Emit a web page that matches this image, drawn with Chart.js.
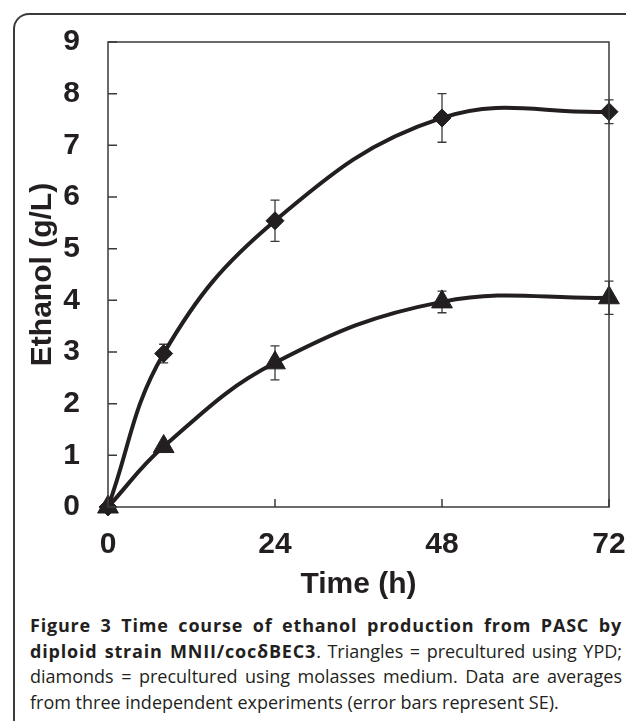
<!DOCTYPE html>
<html><head><meta charset="utf-8">
<script src="https://cdn.jsdelivr.net/npm/chart.js@4/dist/chart.umd.min.js"></script>
<style>
html,body{margin:0;padding:0;background:#fff;width:626px;height:721px;overflow:hidden;}
#frame{position:absolute;left:13px;top:13px;width:660px;height:760px;border-left:2px solid #3a3a3a;border-top:2px solid #3a3a3a;border-top-left-radius:16px;box-sizing:border-box;}
#c{position:absolute;left:0;top:0;}
#cap{position:absolute;left:30px;top:613px;width:592px;font-family:'Open Sans',sans-serif;font-size:18px;line-height:25.7px;color:#231f20;}
#cap .j{text-align:justify;text-align-last:justify;}
#cap b{font-weight:700;letter-spacing:0.8px;}
</style>
</head><body>
<div id="frame"></div>
<canvas id="c" width="626" height="610"></canvas>
<div id="cap">
<div class="j"><b>Figure 3 Time course of ethanol production from PASC by</b></div>
<div class="j"><b>diploid strain MNII/coc&delta;BEC3</b>. Triangles = precultured using YPD;</div>
<div class="j">diamonds = precultured using molasses medium. Data are averages</div>
<div>from three independent experiments (error bars represent SE).</div>
</div>
<script>
const times = [0, 8, 24, 48, 72];
const molasses = [0, 2.97, 5.54, 7.53, 7.65];
const molassesErr = [0, 0.18, 0.40, 0.47, 0.23];
const ypd = [0, 1.17, 2.79, 3.97, 4.05];
const ypdErr = [0, 0.08, 0.33, 0.21, 0.32];
const xTicks = [0, 24, 48, 72];
const yTicks = [0, 1, 2, 3, 4, 5, 6, 7, 8, 9];

const INK = '#231f20';
const AXIS = '#3a3a3a';

const decor = {
  id: 'decor',
  beforeDatasetsDraw(chart) {
    const ctx = chart.ctx, xs = chart.scales.x, ys = chart.scales.y;
    ctx.save();
    ctx.strokeStyle = AXIS;
    ctx.lineWidth = 1.3;
    chart.data.datasets.forEach(ds => {
      ds.data.forEach((p, i) => {
        const e = ds.err[i];
        if (!e) return;
        const px = xs.getPixelForValue(p.x);
        const top = ys.getPixelForValue(p.y + e);
        const bot = ys.getPixelForValue(p.y - e);
        ctx.beginPath();
        ctx.moveTo(px, top); ctx.lineTo(px, bot);
        ctx.moveTo(px - 4.5, top); ctx.lineTo(px + 4.5, top);
        ctx.moveTo(px - 4.5, bot); ctx.lineTo(px + 4.5, bot);
        ctx.stroke();
      });
    });
    ctx.restore();
  },
  afterDraw(chart) {
    const ctx = chart.ctx, a = chart.chartArea, xs = chart.scales.x, ys = chart.scales.y;
    ctx.save();
    ctx.strokeStyle = AXIS;
    ctx.lineWidth = 1.5;
    ctx.strokeRect(a.left, a.top, a.right - a.left, a.bottom - a.top);
    ctx.beginPath();
    yTicks.forEach(v => {
      const py = ys.getPixelForValue(v);
      ctx.moveTo(a.left, py); ctx.lineTo(a.left + 9, py);
    });
    xTicks.forEach(v => {
      const px = xs.getPixelForValue(v);
      ctx.moveTo(px, a.bottom); ctx.lineTo(px, a.bottom - 8);
    });
    ctx.stroke();
    ctx.restore();
  }
};

const font = {family: 'Liberation Sans, Arial, sans-serif', weight: 'bold', size: 30};

new Chart(document.getElementById('c'), {
  type: 'line',
  data: {
    datasets: [
      {
        label: 'Molasses',
        data: times.map((t, i) => ({x: t, y: molasses[i]})),
        err: molassesErr,
        borderColor: INK, backgroundColor: INK,
        borderWidth: 4, tension: 0.4,
        pointStyle: 'rectRot', pointRadius: 9, pointBorderWidth: 1,
        pointBackgroundColor: INK, pointBorderColor: INK,
        clip: false
      },
      {
        label: 'YPD',
        data: times.map((t, i) => ({x: t, y: ypd[i]})),
        err: ypdErr,
        borderColor: INK, backgroundColor: INK,
        borderWidth: 4, tension: 0.4,
        pointStyle: 'triangle', pointRadius: 12, pointBorderWidth: 1,
        pointBackgroundColor: INK, pointBorderColor: INK,
        clip: false
      }
    ]
  },
  options: {
    responsive: false,
    animation: false,
    events: [],
    layout: {padding: {left: 0, top: 42, right: 17, bottom: 0}},
    plugins: {legend: {display: false}, tooltip: {enabled: false}},
    scales: {
      x: {
        type: 'linear', min: 0, max: 72,
        afterBuildTicks: s => { s.ticks = xTicks.map(v => ({value: v})); },
        afterFit: s => { s.height = 103; s.paddingLeft = 0; s.paddingRight = 0; },
        grid: {display: false, drawTicks: false},
        border: {display: false},
        ticks: {color: INK, font: font, padding: 20, maxRotation: 0, autoSkip: false},
        title: {display: true, text: 'Time (h)', color: INK, font: font, padding: {top: 0, bottom: 7}}
      },
      y: {
        min: 0, max: 9,
        afterBuildTicks: s => { s.ticks = yTicks.map(v => ({value: v})); },
        afterFit: s => { s.width = 108; s.paddingTop = 0; s.paddingBottom = 0; },
        grid: {display: false, drawTicks: false},
        border: {display: false},
        ticks: {color: INK, font: font, padding: 28},
        title: {display: true, text: 'Ethanol (g/L)', color: INK, font: font, padding: {top: 25, bottom: 0}}
      }
    }
  },
  plugins: [decor]
});
</script>
</body></html>
